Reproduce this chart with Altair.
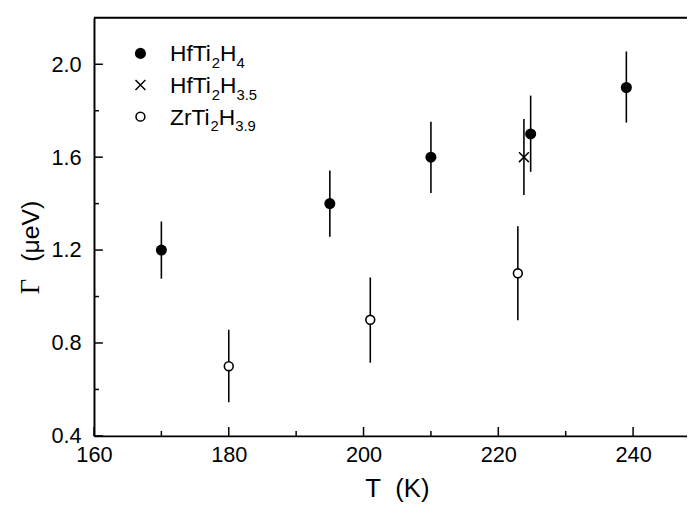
import altair as alt
import pandas as pd

# ---------------- data ----------------
hf4_T = [170, 195, 210, 224.8, 239]
hf4_G = [1.20, 1.40, 1.60, 1.70, 1.90]
hf4_lo = [1.077, 1.257, 1.446, 1.537, 1.749]
hf4_hi = [1.323, 1.543, 1.753, 1.865, 2.055]

hf35_T = [223.8]
hf35_G = [1.60]
hf35_lo = [1.437]
hf35_hi = [1.764]

zr_T = [180, 201, 222.9]
zr_G = [0.70, 0.90, 1.10]
zr_lo = [0.545, 0.715, 0.898]
zr_hi = [0.857, 1.082, 1.303]

x_major = [160, 180, 200, 220, 240]
x_minor = [170, 190, 210, 230]
y_major = [0.4, 0.8, 1.2, 1.6, 2.0]
y_minor = [0.6, 1.0, 1.4, 1.8]

# ---------------- layout ----------------
W, H = 600, 423
FONT = "Liberation Sans"
TICK_FS = 22

def frame(T, G, lo, hi, name):
    return pd.DataFrame({"T": T, "G": G, "lo": lo, "hi": hi, "series": name})

df = pd.concat([
    frame(hf4_T, hf4_G, hf4_lo, hf4_hi, "HfTi2H4"),
    frame(hf35_T, hf35_G, hf35_lo, hf35_hi, "HfTi2H3.5"),
    frame(zr_T, zr_G, zr_lo, zr_hi, "ZrTi2H3.9"),
], ignore_index=True)

xs = alt.Scale(domain=[160, 248], nice=False, zero=False)
ys = alt.Scale(domain=[0.4, 2.2], nice=False, zero=False)

xaxis = alt.Axis(values=x_major, ticks=False, grid=False, title=None,
                 labelFont=FONT, labelFontSize=TICK_FS, labelColor="black",
                 labelPadding=9, domainColor="black", domainWidth=2,
                 labelFlush=False)
yaxis = alt.Axis(values=y_major, ticks=False, grid=False, title=None,
                 format=".1f", labelFont=FONT, labelFontSize=TICK_FS,
                 labelColor="black", labelPadding=13, domainColor="black",
                 domainWidth=2, labelFlush=False)

base = alt.Chart(df)

errbars = base.mark_rule(color="black", strokeWidth=1.6).encode(
    x=alt.X("T:Q", scale=xs, axis=xaxis),
    y=alt.Y("lo:Q", scale=ys, axis=yaxis),
    y2="hi:Q",
)

CROSS = "M-1,-1L1,1M-1,1L1,-1"
S_FILL, S_CROSS, S_OPEN = 125, 100, 80

filled = base.transform_filter(alt.datum.series == "HfTi2H4").mark_point(
    shape="circle", filled=True, color="black", size=S_FILL, opacity=1
).encode(x=alt.X("T:Q", scale=xs), y=alt.Y("G:Q", scale=ys))

cross = base.transform_filter(alt.datum.series == "HfTi2H3.5").mark_point(
    shape=CROSS, filled=False, color="black", size=S_CROSS, strokeWidth=1.5, opacity=1
).encode(x=alt.X("T:Q", scale=xs), y=alt.Y("G:Q", scale=ys))

opened = base.transform_filter(alt.datum.series == "ZrTi2H3.9").mark_point(
    shape="circle", filled=True, fill="white", stroke="black", strokeWidth=1.6,
    size=S_OPEN, opacity=1
).encode(x=alt.X("T:Q", scale=xs), y=alt.Y("G:Q", scale=ys))

# inward ticks
xt_major = alt.Chart(pd.DataFrame({"v": x_major})).mark_rule(color="black", strokeWidth=1.5).encode(
    x=alt.X("v:Q", scale=xs), y=alt.value(H), y2=alt.value(H - 9))
xt_minor = alt.Chart(pd.DataFrame({"v": x_minor})).mark_rule(color="black", strokeWidth=1.5).encode(
    x=alt.X("v:Q", scale=xs), y=alt.value(H), y2=alt.value(H - 5))
yt_major = alt.Chart(pd.DataFrame({"v": y_major})).mark_rule(color="black", strokeWidth=1.5).encode(
    y=alt.Y("v:Q", scale=ys), x=alt.value(0), x2=alt.value(9))
yt_minor = alt.Chart(pd.DataFrame({"v": y_minor})).mark_rule(color="black", strokeWidth=1.5).encode(
    y=alt.Y("v:Q", scale=ys), x=alt.value(0), x2=alt.value(5))

one = alt.Chart(pd.DataFrame({"a": [0]}))

top_border = one.mark_rule(color="black", strokeWidth=2).encode(
    x=alt.value(0), x2=alt.value(W), y=alt.value(0))

# ---------------- legend (manual, with subscripts) ----------------
ADV = {"H": 0.722, "f": 0.278, "T": 0.611, "i": 0.222, "Z": 0.611, "r": 0.333,
       ".": 0.278}
for d in "0123456789":
    ADV[d] = 0.556

MAIN, SUB = 23, 15

def text_width(s, size):
    return sum(ADV[c] for c in s) * size

def formula(parts, x0, yc):
    out = []
    x = x0
    yb = yc + 8
    for txt, sub in parts:
        size = SUB if sub else MAIN
        out.append(one.mark_text(text=txt, align="left", baseline="alphabetic",
                                 font=FONT, fontSize=size, color="black").encode(
            x=alt.value(x), y=alt.value(yb + (7 if sub else 0))))
        x += text_width(txt, size)
    return out

rows_y = [36, 68, 100]
sym_x, txt_x = 47, 77

legend = [
    one.mark_point(shape="circle", filled=True, color="black", size=S_FILL, opacity=1).encode(
        x=alt.value(sym_x), y=alt.value(rows_y[0])),
    one.mark_point(shape=CROSS, filled=False, color="black", size=S_CROSS, strokeWidth=1.5, opacity=1).encode(
        x=alt.value(sym_x), y=alt.value(rows_y[1])),
    one.mark_point(shape="circle", filled=True, fill="white", stroke="black", strokeWidth=1.6,
                   size=S_OPEN, opacity=1).encode(x=alt.value(sym_x), y=alt.value(rows_y[2])),
]
legend += formula([("HfTi", False), ("2", True), ("H", False), ("4", True)], txt_x, rows_y[0])
legend += formula([("HfTi", False), ("2", True), ("H", False), ("3.5", True)], txt_x, rows_y[1])
legend += formula([("ZrTi", False), ("2", True), ("H", False), ("3.9", True)], txt_x, rows_y[2])

# ---------------- axis titles ----------------
x_title = one.mark_text(text="T\u00a0\u00a0(K)", align="center", baseline="middle",
                        font=FONT, fontSize=26, color="black").encode(
    x=alt.value(307), y=alt.value(477))
y_title_g = one.mark_text(text="\u0393", align="center", baseline="middle", angle=270,
                          font="Liberation Serif", fontSize=27, color="black").encode(
    x=alt.value(-64), y=alt.value(272))
y_title_u = one.mark_text(text="(\u03bceV)", align="center", baseline="middle", angle=270,
                          font=FONT, fontSize=25, color="black").encode(
    x=alt.value(-64), y=alt.value(216))

chart = alt.layer(
    errbars, filled, cross, opened,
    xt_major, xt_minor, yt_major, yt_minor, top_border,
    *legend, x_title, y_title_g, y_title_u
).properties(
    width=W, height=H,
    autosize=alt.AutoSizeParams(type="none"),
    padding={"left": 87, "top": 7, "right": 0, "bottom": 67},
).configure_view(stroke=None).configure(background="white")

chart.save("out.html", embed_options={"renderer": "svg", "actions": False})
